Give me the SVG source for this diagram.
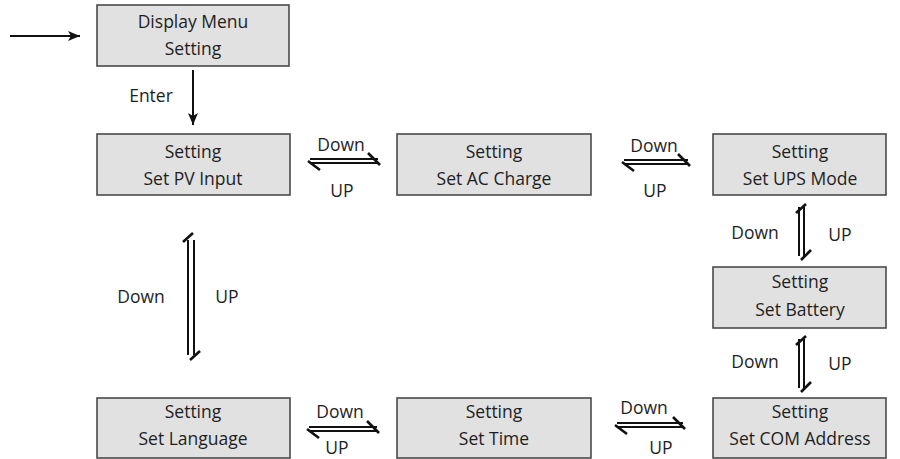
<svg xmlns="http://www.w3.org/2000/svg" width="900" height="459" viewBox="0 0 900 459">
<defs>
<style>
.box{fill:#e1e1e1;stroke:#4a4a4a;stroke-width:1.6}
.t{font-family:"Open Sans","Liberation Sans",sans-serif;font-size:17.5px;fill:#1e1e1e;text-anchor:middle}
.l{font-family:"Open Sans","Liberation Sans",sans-serif;font-size:17.5px;fill:#1e1e1e;text-anchor:middle}
.ln{stroke:#111;stroke-width:2;fill:none}
.tk{stroke:#111;stroke-width:2.6;fill:none}
</style>
<marker id="ah" viewBox="0 0 12 10" refX="12" refY="5" markerWidth="12" markerHeight="10" markerUnits="userSpaceOnUse" orient="auto">
<path d="M0,0 L12,5 L0,10 L3,5 Z" fill="#111"/>
</marker>
</defs>
<rect width="900" height="459" fill="#fff"/>
<g id="display-menu"><rect class="box" x="97" y="5" width="192" height="61"/><text class="t" x="193" y="28">Display Menu</text><text class="t" x="193" y="55">Setting</text></g>
<g id="pv-input"><rect class="box" x="97" y="134" width="193" height="61"/><text class="t" x="193" y="158">Setting</text><text class="t" x="193" y="185">Set PV Input</text></g>
<g id="ac-charge"><rect class="box" x="397" y="134" width="194" height="61"/><text class="t" x="494" y="158">Setting</text><text class="t" x="494" y="185">Set AC Charge</text></g>
<g id="ups-mode"><rect class="box" x="713" y="134" width="173" height="61"/><text class="t" x="800" y="158">Setting</text><text class="t" x="800" y="185">Set UPS Mode</text></g>
<g id="battery"><rect class="box" x="713" y="267" width="173" height="61"/><text class="t" x="800" y="288">Setting</text><text class="t" x="800" y="316">Set Battery</text></g>
<g id="com-address"><rect class="box" x="713" y="398" width="173" height="60"/><text class="t" x="800" y="418">Setting</text><text class="t" x="800" y="445">Set COM Address</text></g>
<g id="language"><rect class="box" x="97" y="398" width="193" height="60"/><text class="t" x="193" y="418">Setting</text><text class="t" x="193" y="445">Set Language</text></g>
<g id="time"><rect class="box" x="397" y="398" width="194" height="60"/><text class="t" x="494" y="418">Setting</text><text class="t" x="494" y="445">Set Time</text></g>
<g id="connectors">
<line class="ln" x1="10" y1="36" x2="80" y2="36" marker-end="url(#ah)"/>
<line class="ln" x1="193" y1="70" x2="193" y2="125" marker-end="url(#ah)"/>
<text class="l" x="151" y="102">Enter</text>
<!-- PV <-> AC -->
<line class="ln" x1="310" y1="159" x2="378" y2="159"/><line class="ln" x1="310" y1="163" x2="378" y2="163"/>
<line class="tk" x1="368" y1="153" x2="380" y2="165"/><line class="tk" x1="308" y1="161" x2="320" y2="170"/>
<text class="l" x="341" y="151">Down</text><text class="l" x="342" y="197">UP</text>
<!-- AC <-> UPS -->
<line class="ln" x1="624" y1="160" x2="688" y2="160"/><line class="ln" x1="624" y1="164" x2="688" y2="164"/>
<line class="tk" x1="678" y1="154" x2="690" y2="166"/><line class="tk" x1="622" y1="162" x2="634" y2="171"/>
<text class="l" x="654" y="152">Down</text><text class="l" x="655" y="197">UP</text>
<!-- UPS <-> Battery -->
<line class="ln" x1="799" y1="207" x2="799" y2="256"/><line class="ln" x1="804" y1="207" x2="804" y2="256"/>
<line class="tk" x1="796" y1="213" x2="806" y2="204"/><line class="tk" x1="801" y1="260" x2="811" y2="250"/>
<text class="l" x="755" y="239">Down</text><text class="l" x="840" y="241">UP</text>
<!-- Battery <-> COM -->
<line class="ln" x1="799" y1="339" x2="799" y2="388"/><line class="ln" x1="804" y1="339" x2="804" y2="388"/>
<line class="tk" x1="796" y1="345" x2="806" y2="336"/><line class="tk" x1="801" y1="392" x2="811" y2="382"/>
<text class="l" x="755" y="368">Down</text><text class="l" x="840" y="370">UP</text>
<!-- PV <-> Language -->
<line class="ln" x1="188" y1="240" x2="188" y2="355"/><line class="ln" x1="194" y1="240" x2="194" y2="355"/>
<line class="tk" x1="183" y1="242" x2="193" y2="233"/><line class="tk" x1="190" y1="360" x2="200" y2="351"/>
<text class="l" x="141" y="303">Down</text><text class="l" x="227" y="303">UP</text>
<!-- Language <-> Time -->
<line class="ln" x1="309" y1="427" x2="377" y2="427"/><line class="ln" x1="309" y1="431" x2="377" y2="431"/>
<line class="tk" x1="367" y1="421" x2="379" y2="433"/><line class="tk" x1="307" y1="429" x2="319" y2="438"/>
<text class="l" x="340" y="418">Down</text><text class="l" x="337" y="454">UP</text>
<!-- Time <-> COM -->
<line class="ln" x1="617" y1="423" x2="683" y2="423"/><line class="ln" x1="617" y1="427" x2="683" y2="427"/>
<line class="tk" x1="673" y1="417" x2="685" y2="429"/><line class="tk" x1="615" y1="425" x2="627" y2="434"/>
<text class="l" x="644" y="414">Down</text><text class="l" x="661" y="454">UP</text>
</g>
</svg>
